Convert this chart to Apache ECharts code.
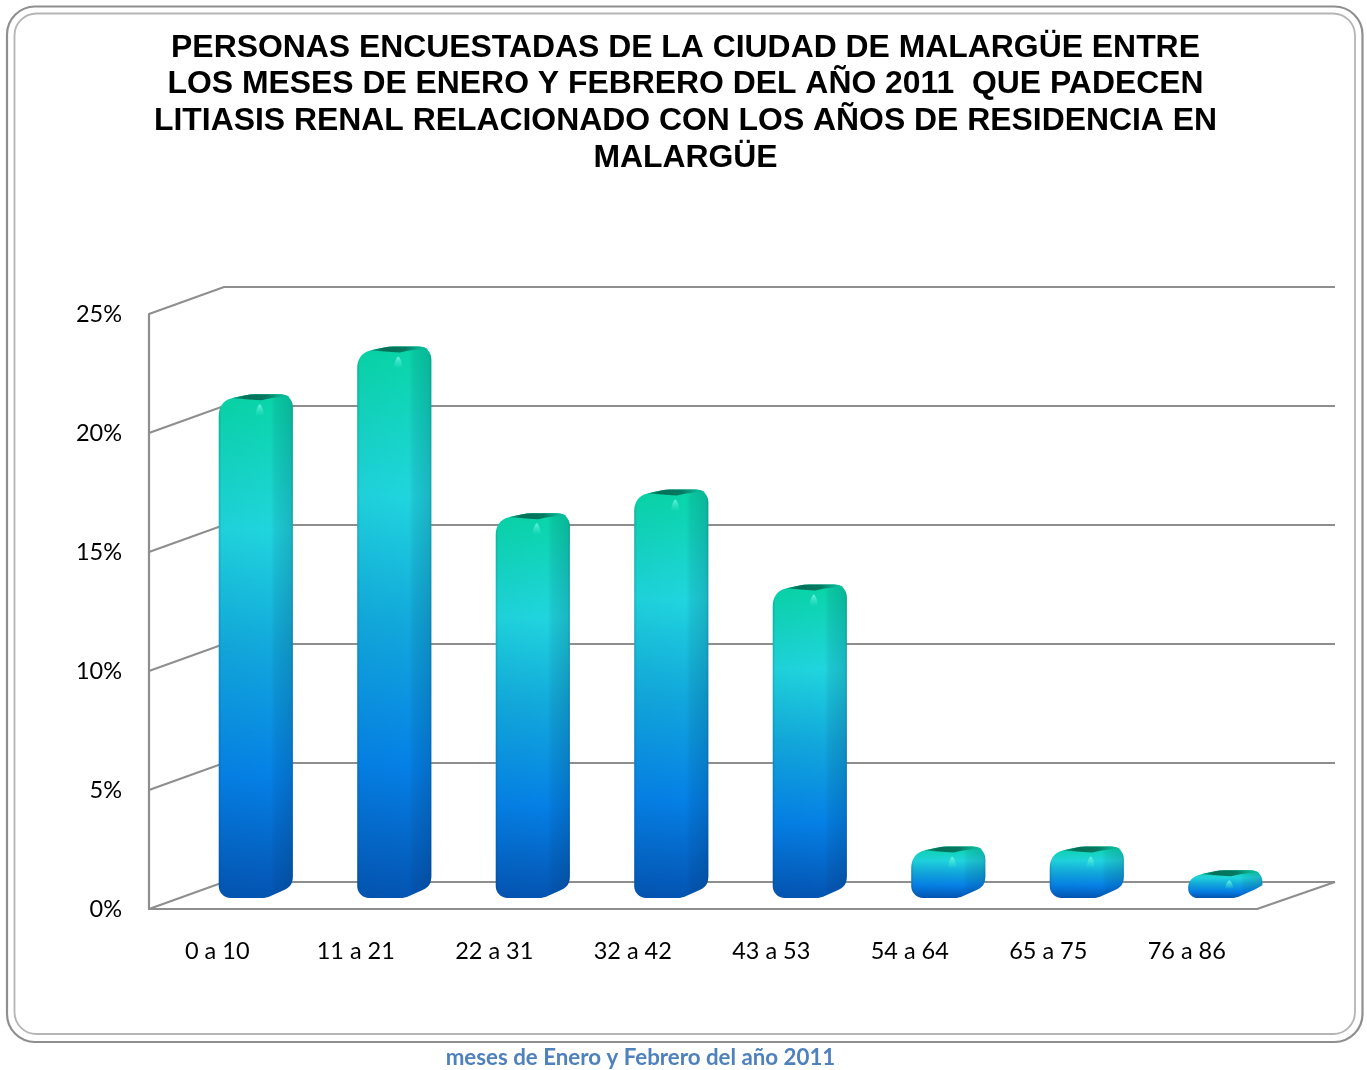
<!DOCTYPE html>
<html>
<head>
<meta charset="utf-8">
<script src="https://cdn.jsdelivr.net/npm/echarts@6/dist/echarts.min.js"></script>
<style>html,body{margin:0;padding:0;background:#fff}#c{width:1367px;height:1070px}</style>
</head>
<body>
<div id="c"></div>
<script>
const categories = ['0 a 10','11 a 21','22 a 31','32 a 42','43 a 53','54 a 64','65 a 75','76 a 86'];
const percentValues = [21, 23, 16, 17, 13, 2, 2, 1];
const valueTicks = [0, 5, 10, 15, 20, 25];
const titleLines = [
  'PERSONAS ENCUESTADAS DE LA CIUDAD DE MALARGÜE ENTRE',
  'LOS MESES DE ENERO Y FEBRERO DEL AÑO 2011  QUE PADECEN',
  'LITIASIS RENAL RELACIONADO CON LOS AÑOS DE RESIDENCIA EN',
  'MALARGÜE'
];
const footerText = 'meses de Enero y Febrero del año 2011';

const LABEL_FONT = 'Lato, "Open Sans", sans-serif';
const WALL = '#8e8e8e';
const DX = 75, DY = 27;

function vGrad(stops){
  return {type:'linear',x:0,y:0,x2:0,y2:1,colorStops:stops.map(s=>({offset:s[0],color:s[1]}))};
}
const FRONT = [[0,'#08d5a6'],[0.27,'#20d5de'],[0.5,'#12a9dc'],[0.76,'#0580e6'],[1,'#0454b2']];
const SHADE = {type:'linear',x:0,y:0,x2:1,y2:0,colorStops:[
  {offset:0,color:'rgba(0,50,70,0.22)'},{offset:0.035,color:'rgba(0,50,70,0.03)'},
  {offset:0.7,color:'rgba(0,30,60,0.0)'},{offset:0.76,color:'rgba(0,30,60,0.08)'},
  {offset:0.97,color:'rgba(0,30,60,0.16)'},{offset:1,color:'rgba(0,30,60,0.3)'}]};

function renderWall(params, api){
  const v = api.value(1);
  const p = api.coord([0, v]);
  const cs = params.coordSys;
  const x0 = cs.x, xr = cs.x + cs.width;
  const children = [{
    type:'polyline',
    shape:{points:[[x0,p[1]],[x0+DX,p[1]-DY],[xr+DX+3,p[1]-DY]]},
    style:{stroke:WALL,lineWidth:2.2,fill:null}
  }];
  if (v === 0) {
    children.push({type:'line',shape:{x1:xr,y1:p[1],x2:xr+DX+3,y2:p[1]-DY},style:{stroke:WALL,lineWidth:2.2}});
  }
  return {type:'group',children};
}

function renderBar(params, api){
  const i = api.value(0), v = api.value(1);
  const c = api.coord([i, v]);
  const c0 = api.coord([i, 0]);
  const band = api.size([1,0])[0];
  const x0 = c[0] + 0.5;
  const x1 = x0 + band*0.395;
  const x2 = x0 + band*0.535;
  const yb = c0[1] - 11;
  const yf = c[1] - 8;
  const yt = yf - 7;
  const h = yb - yf;
  const r = Math.min(15, h*0.5);
  const rb = Math.min(12, h*0.45);
  const rr = Math.min(13, (h+7)*0.42);
  const k = 0.55;
  const whole = [
    'M',x0,yb-rb,
    'C',x0,yb-rb*(1-k),x0+rb*(1-k),yb,x0+rb,yb,
    'L',x1-12,yb,
    'C',x1-9,yb,x1-7,yb-0.5,x1-5,yb-1,
    'L',x2-11,yb-7,
    'C',x2-3,yb-10,x2,yb-14,x2,yb-Math.min(22,h*0.6),
    'L',x2,yt+rr,
    'C',x2,yt+rr*0.3,x2-rr*0.5,yt,x2-rr,yt,
    'L',x0+36,yt,
    'C',x0+30,yt,x0+22,yt+2,x0+13,yf-3,
    'C',x0+4,yf-1,x0,yf+r*0.4,x0,yf+r,
    'Z'
  ].join(' ');
  const top = [
    'M',x0+13,yf-3,
    'C',x0+22,yt+2,x0+30,yt,x0+36,yt,
    'L',x2-rr,yt,
    'C',x2-rr*0.7,yt,x2-5,yt+1,x2-3,yt+3,
    'C',x2-12,yt+2,x1-4,yf-3,x1-12,yf-1,
    'C',x1-25,yf-2,x0+26,yf-2,x0+13,yf-3,
    'Z'
  ].join(' ');
  const hx = x0 + 41, hy = yf + 3;
  const hh = Math.min(11, h*0.4);
  const glint = ['M',hx,hy,'C',hx+2,hy+1,hx+4,hy+hh*0.6,hx+4,hy+hh,'L',hx-4,hy+hh,'C',hx-4,hy+hh*0.6,hx-2,hy+1,hx,hy,'Z'].join(' ');
  return {type:'group',children:[
    {type:'path',shape:{pathData:whole},style:{fill:vGrad(FRONT)}},
    {type:'path',shape:{pathData:whole},style:{fill:SHADE}},
    {type:'path',shape:{pathData:top},style:{fill:{type:'linear',x:0,y:0,x2:1,y2:0,colorStops:[
      {offset:0,color:'#07a486'},{offset:0.22,color:'#047058'},{offset:0.6,color:'#067a62'},{offset:0.85,color:'#0db395'},{offset:1,color:'#0cc2a2'}]}}},
    {type:'path',shape:{pathData:glint},style:{fill:{type:'linear',x:0,y:0,x2:0,y2:1,colorStops:[
      {offset:0,color:'rgba(110,245,225,0.95)'},{offset:1,color:'rgba(60,230,210,0.1)'}]}}}
  ]};
}

const chart = echarts.init(document.getElementById('c'), null, {renderer:'canvas'});
chart.setOption({
  animation:false,
  backgroundColor:'#fff',
  title:{
    text:titleLines.join('\n'),
    left:680.5, top:24.5, textAlign:'center',
    textStyle:{fontFamily:'"Liberation Sans", Arial, sans-serif',fontWeight:'bold',fontSize:31.9,lineHeight:36.7,color:'#000'}
  },
  grid:{left:149,top:314,width:1108,height:595,containLabel:false},
  xAxis:{
    type:'category',data:categories,
    axisLine:{lineStyle:{color:WALL,width:2.2}},
    axisTick:{show:false},
    axisLabel:{fontFamily:LABEL_FONT,fontSize:23.5,color:'#000',margin:30,interval:0,padding:[0,2,0,0]},
    splitLine:{show:false}
  },
  yAxis:{
    type:'value',min:0,max:25,interval:5,
    axisLine:{show:true,lineStyle:{color:WALL,width:2.2}},
    axisTick:{show:false},
    axisLabel:{formatter:'{value}%',fontFamily:LABEL_FONT,fontSize:23.5,color:'#000',margin:27,padding:[4,0,0,0]},
    splitLine:{show:false}
  },
  series:[
    {type:'custom',name:'pared',z:1,silent:true,renderItem:renderWall,encode:{x:0,y:1},
     data:valueTicks.map(t=>[0,t])},
    {type:'custom',name:'Encuestados',z:3,renderItem:renderBar,encode:{x:0,y:1},
     data:percentValues.map((v,i)=>[i,v])}
  ],
  graphic:[
    {type:'rect',silent:true,z:-10,shape:{x:7,y:6.5,width:1355.5,height:1035.5,r:28},style:{fill:'#fff',stroke:'#8f8f8f',lineWidth:2.2}},
    {type:'rect',silent:true,z:-9,shape:{x:14.5,y:13.5,width:1340.5,height:1020.5,r:22},style:{fill:'#fff',stroke:'#b5b5b5',lineWidth:1.8}},
    {type:'text',silent:true,z:5,style:{x:640.5,y:1057.5,text:footerText,align:'center',verticalAlign:'middle',fontFamily:LABEL_FONT,fontWeight:'bold',fontSize:22.3,fill:'#4f81bd'}}
  ]
});
</script>
</body>
</html>
